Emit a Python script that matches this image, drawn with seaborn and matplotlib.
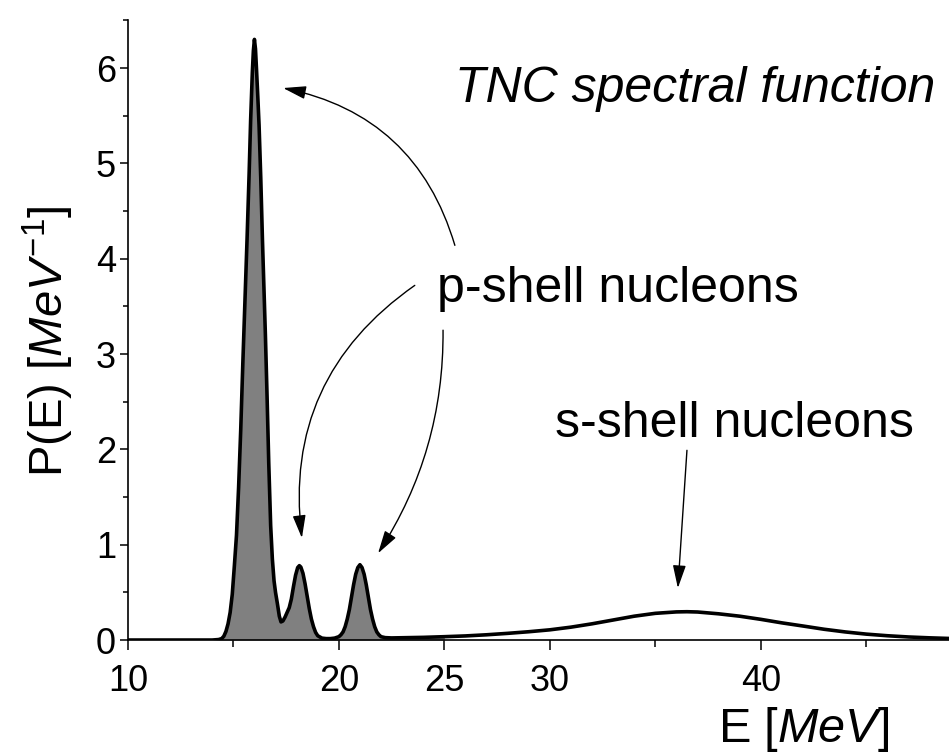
import numpy as np
import pandas as pd
import seaborn as sns
import matplotlib.pyplot as plt
from matplotlib.ticker import MultipleLocator, FixedLocator

# spectral function, E in MeV, P in 1/MeV
energy = [10.0, 14.0, 14.3, 14.45, 14.55, 14.65, 14.75, 14.85, 14.95, 15.05,
          15.15, 15.25, 15.35, 15.45, 15.55, 15.65, 15.75, 15.82, 15.9, 15.95,
          16.0, 16.05, 16.1, 16.16, 16.22, 16.3, 16.38, 16.45, 16.52, 16.6,
          16.68, 16.77, 16.85, 16.93, 17.0, 17.09, 17.18, 17.26, 17.35, 17.45,
          17.55, 17.65, 17.75, 17.85, 17.95, 18.05, 18.13, 18.2, 18.3, 18.4,
          18.5, 18.6, 18.7, 18.8, 18.9, 19.0, 19.2, 19.4, 19.6, 19.8,
          20.0, 20.1, 20.2, 20.3, 20.4, 20.5, 20.6, 20.7, 20.8, 20.9,
          21.0, 21.1, 21.2, 21.3, 21.4, 21.5, 21.6, 21.7, 21.8, 21.9,
          22.0, 22.2, 22.5, 23.0, 24.0, 25.0, 26.0, 27.0, 28.0, 29.0,
          30.0, 31.0, 32.0, 33.0, 34.0, 35.0, 36.0, 36.5, 37.0, 38.0,
          39.0, 40.0, 41.0, 42.0, 43.0, 44.0, 45.0, 46.0, 47.0, 48.0,
          49.0, 50.0]
prob = [0.0, 0.0, 0.005, 0.015, 0.04, 0.09, 0.17, 0.29, 0.48, 0.78,
        1.1, 1.6, 2.2, 2.9, 3.55, 4.2, 4.9, 5.45, 5.95, 6.18,
        6.3, 6.2, 5.98, 5.7, 5.4, 4.85, 4.2, 3.7, 3.2, 2.55,
        1.85, 1.2, 0.85, 0.62, 0.5, 0.38, 0.25, 0.19, 0.2, 0.24,
        0.29, 0.34, 0.43, 0.56, 0.68, 0.76, 0.78, 0.765, 0.7, 0.59,
        0.46, 0.33, 0.22, 0.14, 0.08, 0.045, 0.02, 0.015, 0.015, 0.02,
        0.035, 0.055, 0.085, 0.14, 0.22, 0.32, 0.45, 0.58, 0.69, 0.76,
        0.79, 0.76, 0.69, 0.58, 0.45, 0.32, 0.22, 0.14, 0.085, 0.055,
        0.035, 0.025, 0.022, 0.024, 0.028, 0.035, 0.043, 0.055, 0.07, 0.087,
        0.107, 0.135, 0.17, 0.21, 0.25, 0.28, 0.295, 0.297, 0.294, 0.275,
        0.25, 0.217, 0.18, 0.147, 0.113, 0.085, 0.062, 0.045, 0.032, 0.023,
        0.016, 0.011]

x_major = [10, 20, 25, 30, 40]
x_minor = [15, 35, 45]
x_labels = ["10", "20", "25", "30", "40"]
fill_limit = 25.0

df = pd.DataFrame({"E": energy, "P": prob})

sns.set_style("ticks")
plt.rcParams['font.family'] = ['Liberation Sans', 'DejaVu Sans']
plt.rcParams['mathtext.fontset'] = 'custom'
plt.rcParams['mathtext.rm'] = 'Liberation Sans'
plt.rcParams['mathtext.it'] = 'Liberation Sans:italic'
plt.rcParams['text.color'] = 'black'
plt.rcParams['axes.labelcolor'] = 'black'
plt.rcParams['xtick.color'] = 'black'
plt.rcParams['ytick.color'] = 'black'

fig = plt.figure(figsize=(9.49, 7.56), dpi=100)
ax = fig.add_axes([0.1347, 0.1534, 0.8653, 0.8197])

# grey area under the p-shell part
mask = df["E"] <= fill_limit
ax.fill_between(df["E"][mask], df["P"][mask], 0, color="#808080", lw=0)
sns.lineplot(data=df, x="E", y="P", color="black", lw=2.6, ax=ax)

ax.set_xlim(10, 48.92)
ax.set_ylim(0, 6.5)
ax.xaxis.set_major_locator(FixedLocator(x_major))
ax.xaxis.set_minor_locator(FixedLocator(x_minor))
ax.set_xticklabels(x_labels)
ax.yaxis.set_major_locator(MultipleLocator(1))
ax.yaxis.set_minor_locator(MultipleLocator(0.5))

for side in ["top", "right"]:
    ax.spines[side].set_visible(False)
for side in ["left", "bottom"]:
    ax.spines[side].set_linewidth(1.2)
    ax.spines[side].set_color("black")

ax.tick_params(axis="x", which="major", length=7, width=1.1, labelsize=26, pad=10)
ax.tick_params(axis="x", which="minor", length=5, width=1.1)
ax.tick_params(axis="y", which="major", length=5.5, width=1.1, labelsize=26, pad=3)
ax.tick_params(axis="y", which="minor", length=3.5, width=1.1)

ax.set_xlabel(r"E [$\mathit{MeV}$]", fontsize=35, ha="right", va="center")
ax.xaxis.set_label_coords(0.928, -0.145)
ax.set_ylabel(r"P(E) [$\mathit{MeV}^{-1}$]", fontsize=34, va="center")
ax.yaxis.set_label_coords(-0.097, 0.483)

ax.text(48.26, 5.64, "TNC spectral function", fontsize=36, style="italic", ha="right")
ax.text(24.65, 3.55, "p-shell nucleons", fontsize=36, ha="left")
ax.text(30.26, 2.13, "s-shell nucleons", fontsize=36, ha="left")

arrow = dict(arrowstyle="-|>,head_length=0.7,head_width=0.2", color="black",
             lw=1.0, mutation_scale=20, shrinkA=0, shrinkB=0)
ax.annotate("", xy=(17.36, 5.79), xytext=(25.5, 4.14),
            arrowprops=dict(arrow, connectionstyle="arc3,rad=0.3"))
ax.annotate("", xy=(18.25, 1.07), xytext=(23.6, 3.72),
            arrowprops=dict(arrow, connectionstyle="arc3,rad=0.3"))
ax.annotate("", xy=(21.86, 0.91), xytext=(24.94, 3.25),
            arrowprops=dict(arrow, connectionstyle="arc3,rad=-0.15"))
ax.annotate("", xy=(36.07, 0.545), xytext=(36.5, 1.99),
            arrowprops=dict(arrow, connectionstyle="arc3,rad=0"))

plt.savefig("out.png", dpi=100)
